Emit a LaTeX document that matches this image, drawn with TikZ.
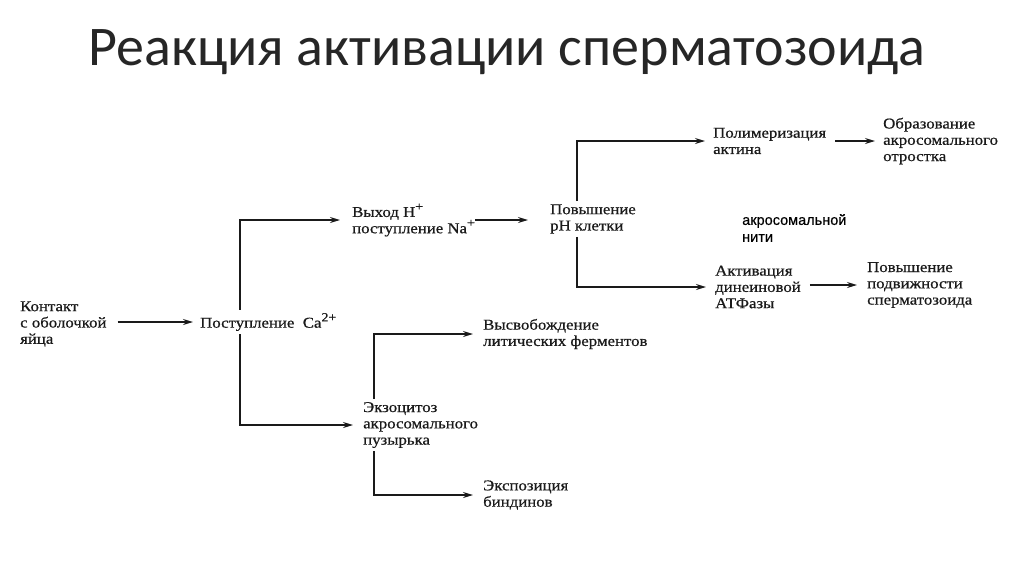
\documentclass[tikz,border=0pt]{standalone}
\usepackage{fontspec}
\setmainfont{Liberation Serif}[FakeStretch=1.12,FakeBold=0.6]
\newfontfamily\titlefont{Carlito}
\newfontfamily\arialfont{Liberation Sans}[FakeBold=0.3]
\usetikzlibrary{arrows.meta}
\definecolor{ink}{HTML}{1A1A1A}
\definecolor{titleink}{HTML}{262626}
\newcommand{\supx}[1]{\raisebox{0.42em}{\fontsize{12.5}{12.5}\selectfont #1}}
\begin{document}
\begin{tikzpicture}[x=1pt,y=-1pt,
  lbl/.style={anchor=west,align=left,inner xsep=0pt,inner ysep=3pt,text=ink,
    font=\fontsize{15}{16.3}\selectfont},
  arr/.style={draw=ink,line width=1.3pt,-{Stealth[length=10pt,width=6pt]}}]
\useasboundingbox (0,0) rectangle (1024,574);
\fill[white] (0,0) rectangle (1024,574);
\node[anchor=base west,inner sep=0pt,text=titleink,font=\titlefont\fontsize{56}{60}\selectfont] (title) at (88,65) {Реакция активации сперматозоида};

\node[lbl] (kont) at (20,324) {Контакт\\с оболочкой\\яйца};
\node[lbl] (ca) at (200,322) {Поступление\ \ Ca\supx{2+}};
\node[lbl] (hx) at (352,220) {Выход H\supx{+}\\поступление Na\supx{+}};
\node[lbl] (ph) at (550,219) {Повышение\\pH клетки};
\node[lbl] (pol) at (713,141) {Полимеризация\\актина};
\node[lbl] (obr) at (883,141) {Образование\\акросомального\\отростка};
\node[anchor=west,align=left,inner sep=0pt,text=black,font=\arialfont\fontsize{14.5}{17}\selectfont] (nit) at (742,228) {акросомальной\\нити};
\node[lbl] (akt) at (715,287) {Активация\\динеиновой\\АТФазы};
\node[lbl] (pod) at (867,285) {Повышение\\подвижности\\сперматозоида};
\node[lbl] (ekz) at (363,425) {Экзоцитоз\\акросомального\\пузырька};
\node[lbl] (vys) at (483,334) {Высвобождение\\литических ферментов};
\node[lbl] (eks) at (483,495) {Экспозиция\\биндинов};

\coordinate (j1) at (240,0);
\coordinate (j2) at (577,0);
\coordinate (j3) at (374,0);

\draw[arr,shorten <=11pt,shorten >=7pt] (kont.east |- ca.west) -- (ca.west);
\draw[arr,shorten >=12pt] (ca.north -| j1) |- (hx.west);
\draw[arr,shorten >=10pt] (ca.south -| j1) |- (ekz.west);
\draw[arr,shorten >=22pt] (hx.east) -- (hx.east -| ph.west);
\draw[arr,shorten >=8pt] (ph.north -| j2) |- (pol.west);
\draw[arr,shorten >=9pt] (ph.south -| j2) |- (akt.west);
\draw[arr,shorten <=9pt,shorten >=8pt] (pol.east |- obr.west) -- (obr.west);
\draw[arr,shorten <=9pt,shorten >=10pt] (akt.east |- pod.west) -- (pod.west);
\draw[arr,shorten >=10pt] (ekz.north -| j3) |- (vys.west);
\draw[arr,shorten >=10pt] (ekz.south -| j3) |- (eks.west);
\end{tikzpicture}
\end{document}
